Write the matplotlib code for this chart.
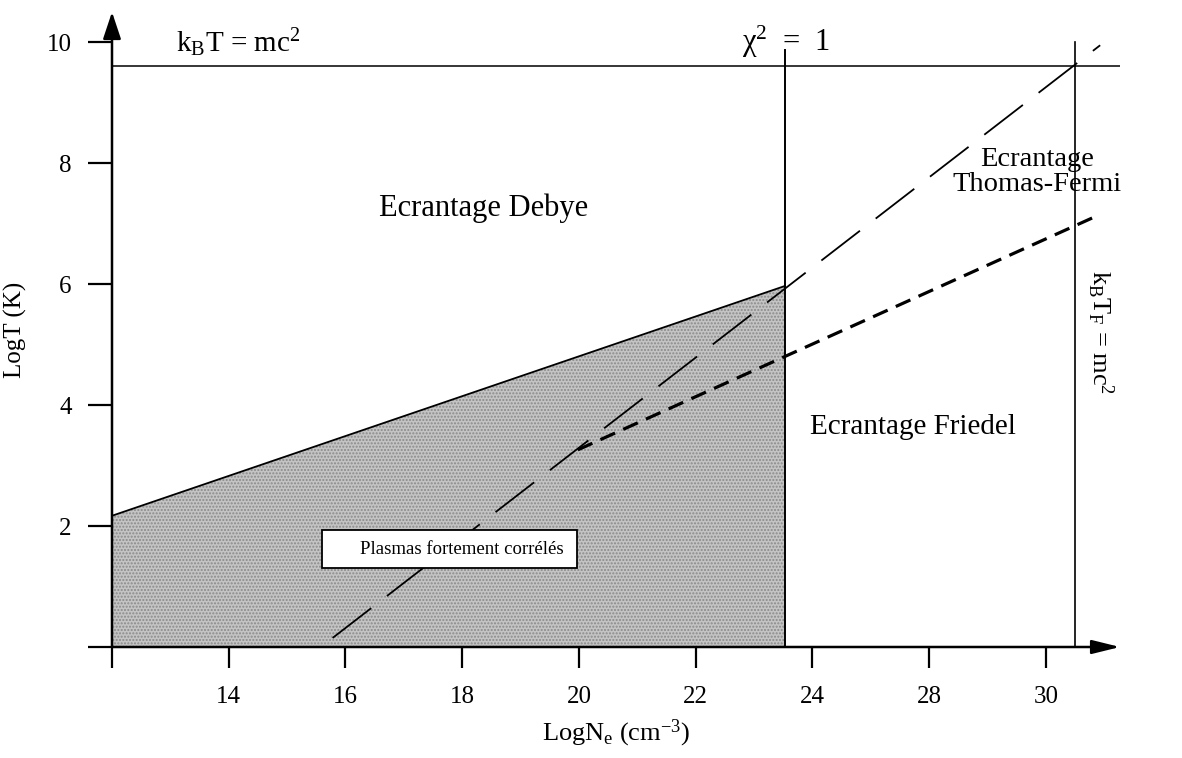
import matplotlib
matplotlib.use('Agg')
import matplotlib.pyplot as plt
from matplotlib.patches import Rectangle

plt.rcParams['font.family'] = ['Liberation Serif', 'DejaVu Serif']
plt.rcParams['mathtext.fontset'] = 'custom'
plt.rcParams['mathtext.rm'] = 'Liberation Serif'
plt.rcParams['mathtext.it'] = 'Liberation Serif:italic'

# Axes ticks (positions on the axis, labels as printed)
xtick_pos = [12, 14, 16, 18, 20, 22, 24, 26, 28]
xtick_labels = ['', '14', '16', '18', '20', '22', '24', '28', '30']
ytick_pos = [0, 2, 4, 6, 8, 10]
ytick_labels = ['', '2', '4', '6', '8', '10']

# Boundaries
relat_T = 9.6          # k_B T = mc^2
chi_N = 23.53          # chi^2 = 1
chi_top = 9.87
fermi_N = 28.5         # k_B T_F = mc^2
fermi_top = 10.0

# Strongly correlated plasma region (upper edge)
corr_N = [12.0, 23.53]
corr_T = [2.17, 5.97]

# Dashed curves
long_dash_N = [15.78, 28.93]
long_dash_T = [0.15, 9.95]
short_dash_N = [19.98, 28.9]
short_dash_T = [3.26, 7.14]

fig = plt.figure(figsize=(11.82, 7.58), dpi=100)
ax = fig.add_axes([112 / 1182, 1 - 647 / 758, (1120 - 112) / 1182, (647 - 12) / 758])
ax.set_xlim(12, 29.27)
ax.set_ylim(0, 10.5)

for s in ax.spines.values():
    s.set_visible(False)

# axes with arrow heads
ax.annotate('', xy=(0, 1), xytext=(0, 0), xycoords='axes fraction',
            arrowprops=dict(arrowstyle='-|>,head_length=1.65,head_width=0.55',
                            lw=1.8, color='k', shrinkA=0, shrinkB=0, mutation_scale=10))
ax.annotate('', xy=(1, 0), xytext=(0, 0), xycoords='axes fraction',
            arrowprops=dict(arrowstyle='-|>,head_length=1.7,head_width=0.42',
                            lw=1.8, color='k', shrinkA=0, shrinkB=0, mutation_scale=10))

# shaded region
ax.fill_between(corr_N, 0, corr_T, facecolor='#c4c4c4', edgecolor='none', zorder=1)
ax.fill_between(corr_N, 0, corr_T, facecolor='none', edgecolor='#8a8a8a', hatch='.....',
                linewidth=0, zorder=1)
ax.plot(corr_N, corr_T, color='k', lw=1.3, zorder=3)

# boundary lines
ax.plot([12, 29.27], [relat_T, relat_T], color='k', lw=1.1, zorder=3)
ax.plot([chi_N, chi_N], [0, chi_top], color='k', lw=1.4, zorder=3)
ax.plot([fermi_N, fermi_N], [0, fermi_top], color='k', lw=1.2, zorder=3)

ax.plot(long_dash_N, long_dash_T, color='k', lw=1.3, dashes=(27, 11), zorder=3)
ax.plot(short_dash_N, short_dash_T, color='k', lw=2.3, dashes=(5, 2.8), zorder=3)

# ticks
ax.set_xticks(xtick_pos)
ax.set_xticklabels(xtick_labels)
ax.set_yticks(ytick_pos)
ax.set_yticklabels(ytick_labels)
ax.tick_params(axis='x', direction='out', length=15, width=1.6, pad=13, labelsize=18)
ax.tick_params(axis='y', direction='out', length=17, width=1.6, pad=12, labelsize=18)

ax.set_xlabel(r'LogN$_\mathregular{e}$ (cm$^\mathregular{-3}$)', fontsize=19, labelpad=7)
ax.set_ylabel('LogT (K)', fontsize=18, labelpad=14)

# region labels
ax.text(14.16, 10.0, r'k$_\mathregular{B}$T = mc$^\mathregular{2}$', fontsize=21,
        ha='center', va='center')
ax.text(23.55, 10.0, r'χ$^\mathregular{2}$  =  1', fontsize=22, ha='center', va='center')
ax.text(18.37, 7.26, 'Ecrantage Debye', fontsize=22, ha='center', va='center')
ax.text(27.85, 7.85, 'Ecrantage\nThomas-Fermi', fontsize=20.5, ha='center', va='center',
        linespacing=0.98)
ax.text(25.72, 3.64, 'Ecrantage Friedel', fontsize=21, ha='center', va='center')
ax.text(28.92, 5.2, r'k$_\mathregular{B}$T$_\mathregular{F}$ = mc$^\mathregular{2}$',
        fontsize=19, ha='center', va='center', rotation=-90)

ax.add_patch(Rectangle((15.59, 1.31), 4.38, 0.62, facecolor='white', edgecolor='k',
                       lw=1.3, zorder=4))
ax.text(18.0, 1.62, 'Plasmas fortement corrélés', fontsize=13.5, ha='center',
        va='center', zorder=5)

fig.savefig('out.png', dpi=100)
